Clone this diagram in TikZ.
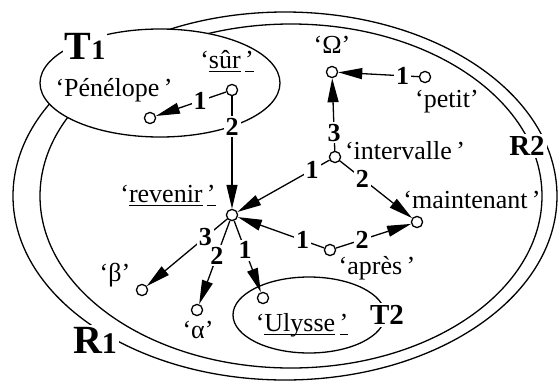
\documentclass[tikz,border=0pt]{standalone}
\usepackage{fontspec}
\setmainfont{Liberation Serif}
\usepackage{tikz}
\usetikzlibrary{arrows.meta, positioning, shapes.geometric}
\newcommand\uword[1]{‘\underline{\smash{#1}}\,\underline{\smash{’}}}
\tikzset{
vertex/.style={
circle,
draw,
fill=white,
line width=0.65pt,
inner sep=0pt,
minimum size=5.6pt
},
region/.style={
ellipse,
draw,
line width=0.65pt,
inner sep=0pt
},
lbl/.style={
font=\fontsize{13}{15}\selectfont,
inner sep=1pt
},
num/.style={
font=\fontsize{13}{15}\selectfont\bfseries,
fill=white,
inner sep=1pt
},
tag/.style={
font=\fontsize{14.5}{16}\selectfont\bfseries,
fill=white,
inner sep=1pt
},
bigtag/.style={
font=\fontsize{20}{22}\selectfont\bfseries,
fill=white,
inner sep=1pt
},
arrow/.style={
-{Triangle[length=12pt,width=5.5pt]},
line width=0.65pt
}
}

\begin{document}
\begin{tikzpicture}[x=0.5pt, y=-0.5pt]
\useasboundingbox (0,0) rectangle (558,381);

% regions
\node[region, minimum width=272pt, minimum height=184pt] (r1) at (285,196) {};
\node[region, minimum width=251pt, minimum height=172pt] (r2) at (291,196) {};
\node[region, fill=white, minimum width=120pt, minimum height=54pt] (t1) at (160,83) {};
\node[region, minimum width=76pt, minimum height=38pt] (t2) at (309,315) {};

\node[bigtag] (r1tag) at (95,340) {R{\fontsize{15}{16}\selectfont 1}};
\node[bigtag] (t1tag) at (85,46) {T{\fontsize{14}{15}\selectfont 1}};
\node[tag] (r2tag) at (527,146) {R2};
\node[tag] (t2tag) at (387,315) {T2};

% vertices
\node[vertex] (penelope) at (150,118) {};
\node[vertex] (sur) at (232,90) {};
\node[vertex] (revenir) at (232,215) {};
\node[vertex] (omega) at (332,72) {};
\node[vertex] (petit) at (425,77) {};
\node[vertex] (intervalle) at (335,157) {};
\node[vertex] (maintenant) at (417,222) {};
\node[vertex] (apres) at (330,250) {};
\node[vertex] (beta) at (142,290) {};
\node[vertex] (alpha) at (197,310) {};
\node[vertex] (ulysse) at (263,298) {};

% labels
\node[lbl] (penelopelbl) at (114,90) {‘Pénélope\,’};
\node[lbl] (surlbl) at (227,62) {\uword{sûr}};
\node[lbl] (revenirlbl) at (168,196) {\uword{revenir}};
\node[lbl] (omegalbl) at (332,45) {‘Ω’};
\node[lbl] (petitlbl) at (447,102) {‘petit’};
\node[lbl] (intervallelbl) at (405,151) {‘intervalle\,’};
\node[lbl] (maintenantlbl) at (472,200) {‘maintenant\,’};
\node[lbl] (apreslbl) at (377,268) {‘après\,’};
\node[lbl] (betalbl) at (115,275) {‘β’};
\node[lbl] (alphalbl) at (198,330) {‘α’};
\node[lbl] (ulysselbl) at (302,325) {\uword{Ulysse}};

% edges
\draw[arrow] (sur) -- node[num, pos=0.37] {1} (penelope);
\draw[arrow] (sur) -- node[num, pos=0.27] {2} (revenir);
\draw[arrow] (petit) -- node[num, pos=0.2] {1} (omega);
\draw[arrow] (intervalle) -- node[num, pos=0.25] {3} (omega);
\draw[arrow] (intervalle) -- node[num, pos=0.19] {1} (revenir);
\draw[arrow] (intervalle) -- node[num, pos=0.31] {2} (maintenant);
\draw[arrow] (apres) -- node[num, pos=0.25] {1} (revenir);
\draw[arrow] (apres) -- node[num, pos=0.35] {2} (maintenant);
\draw[arrow] (revenir) -- node[num, pos=0.27] {3} (beta);
\draw[arrow] (revenir) -- node[num, pos=0.42] {2} (alpha);
\draw[arrow] (revenir) -- node[num, pos=0.41] {1} (ulysse);

\end{tikzpicture}
\end{document}
